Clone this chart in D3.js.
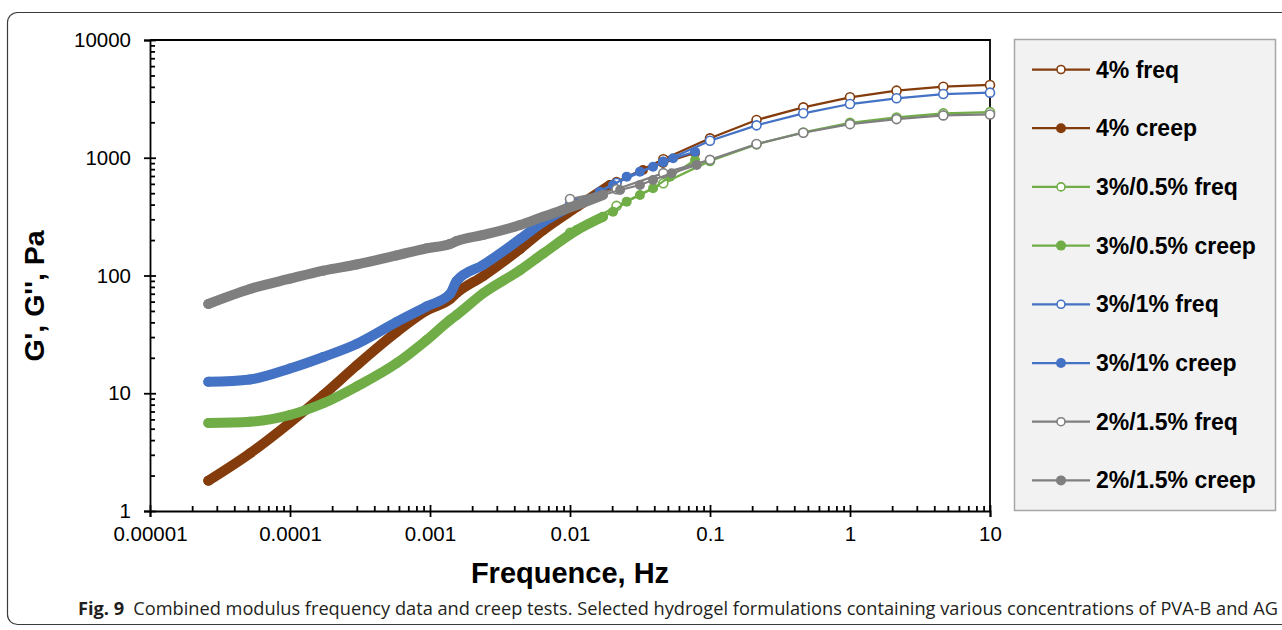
<!DOCTYPE html>
<html>
<head>
<meta charset="utf-8">
<script src="https://cdn.jsdelivr.net/npm/d3@7"></script>
<style>
  body { margin: 0; background: #fff; }
  svg { display: block; }
</style>
</head>
<body>
<script>
// chart size
var width = 1282;
var height = 630;

// plot area
var m = {left: 150, top: 40, right: 990, bottom: 511};

// frequency sweep points (Hz), shared by all "freq" series
var freqHz = [0.01, 0.0215, 0.0464, 0.1, 0.215, 0.464, 1, 2.15, 4.64, 10];
var freq4 = [380, 622, 970, 1462, 2093, 2680, 3260, 3715, 4010, 4150];
var freq3_05 = [230, 390, 607, 940, 1300, 1640, 1980, 2200, 2380, 2440];
var freq3_1 = [400, 610, 925, 1395, 1885, 2385, 2860, 3200, 3475, 3570];
var freq2_15 = [446, 540, 740, 960, 1309, 1630, 1930, 2130, 2290, 2330];

// creep tests converted to frequency (dense part read at these frequencies)
var creepHz = [2.61e-5, 5.18e-5, 1.0e-4, 1.73e-4, 2.99e-4, 5.78e-4, 9.46e-4, 1.39e-3, 1.55e-3, 2.4e-3, 4.4e-3, 6.45e-3, 0.0112];

var creep4Hz = creepHz.concat([0.0193, 0.0332, 0.0462, 0.0782]);
var creep4 = [1.81, 3.09, 5.64, 9.67, 17.2, 33.1, 50.4, 63.1, 71.0, 99.0, 168, 243, 382, 587, 787, 902, 1097];

var creep3_05Hz = creepHz.concat([0.0172, 0.0203, 0.0254, 0.0316, 0.0392, 0.0518, 0.0782]);
var creep3_05 = [5.59, 5.73, 6.54, 8.22, 11.4, 18.0, 28.3, 41.9, 46.2, 70.6, 111, 154, 243, 316, 348, 424, 483, 550, 691, 957];

var creep3_1Hz = creepHz.concat([0.0163, 0.0203, 0.0254, 0.0316, 0.0392, 0.0462, 0.0545, 0.0782]);
var creep3_1 = [12.5, 13.1, 16.2, 20.3, 26.2, 40.3, 54.5, 69.7, 89.8, 123, 204, 285, 413, 515, 587, 691, 762, 839, 926, 989, 1125];

var creep2_15Hz = creepHz.concat([0.0172, 0.0228, 0.0316, 0.0392, 0.0532, 0.0804]);
var creep2_15 = [57.3, 76.8, 93.9, 110, 124, 148, 170, 185, 196, 221, 268, 316, 397, 483, 532, 587, 648, 738, 868];

var seriesNames = ["4% freq", "4% creep", "3%/0.5% freq", "3%/0.5% creep", "3%/1% freq", "3%/1% creep", "2%/1.5% freq", "2%/1.5% creep"];
var seriesColors = ["#843c0c", "#843c0c", "#70ad47", "#70ad47", "#4472c4", "#4472c4", "#7f7f7f", "#7f7f7f"];

var xTicks = [0.00001, 0.0001, 0.001, 0.01, 0.1, 1, 10];
var xTickLabels = ["0.00001", "0.0001", "0.001", "0.01", "0.1", "1", "10"];
var yTicks = [1, 10, 100, 1000, 10000];

// build series table from the arrays above
var series = [
  {x: freqHz, y: freq4, creep: false, denseTo: 0},
  {x: creep4Hz, y: creep4, creep: true, denseTo: 0.0193},
  {x: freqHz, y: freq3_05, creep: false, denseTo: 0},
  {x: creep3_05Hz, y: creep3_05, creep: true, denseTo: 0.0172},
  {x: freqHz, y: freq3_1, creep: false, denseTo: 0},
  {x: creep3_1Hz, y: creep3_1, creep: true, denseTo: 0.0112},
  {x: freqHz, y: freq2_15, creep: false, denseTo: 0},
  {x: creep2_15Hz, y: creep2_15, creep: true, denseTo: 0.0172}
];
series.forEach(function(s, i) {
  s.name = seriesNames[i];
  s.color = seriesColors[i];
  s.pts = s.x.map(function(d, j) { return [d, s.y[j]]; });
});

var x = d3.scaleLog().domain([0.00001, 10]).range([m.left, m.right]);
var y = d3.scaleLog().domain([1, 10000]).range([m.bottom, m.top]);

var svg = d3.select("body").append("svg")
  .attr("width", width)
  .attr("height", height);

// outer figure frame
svg.append("rect")
  .attr("x", 7.5).attr("y", 12.5)
  .attr("width", 1300).attr("height", 612)
  .attr("rx", 10)
  .style("fill", "none")
  .style("stroke", "#3a3a3a")
  .style("stroke-width", 1.2);

// minor tick values
var xMinor = [], yMinor = [];
xTicks.slice(0, -1).forEach(function(d) { for (var k = 2; k < 10; k++) xMinor.push(d * k); });
yTicks.slice(0, -1).forEach(function(d) { for (var k = 2; k < 10; k++) yMinor.push(d * k); });

var font = "'Liberation Sans', Arial, sans-serif";

// plot box (top + right)
svg.append("path")
  .attr("d", "M" + m.left + "," + m.top + "H" + m.right + "V" + m.bottom)
  .style("fill", "none")
  .style("stroke", "#000")
  .style("stroke-width", 1.8);

// y axis
var gyMinor = svg.append("g")
  .attr("transform", "translate(" + m.left + ",0)")
  .call(d3.axisLeft(y).tickValues(yMinor).tickSize(-5).tickFormat(""));
var gy = svg.append("g")
  .attr("transform", "translate(" + m.left + ",0)")
  .call(d3.axisLeft(y).tickValues(yTicks).tickSize(6).tickPadding(13).tickFormat(d3.format("d")));
gy.selectAll(".tick line").attr("x1", 6);

// x axis
var gxMinor = svg.append("g")
  .attr("transform", "translate(0," + m.bottom + ")")
  .call(d3.axisBottom(x).tickValues(xMinor).tickSize(-5).tickFormat(""));
var gx = svg.append("g")
  .attr("transform", "translate(0," + m.bottom + ")")
  .call(d3.axisBottom(x).tickValues(xTicks).tickSize(6).tickPadding(9)
    .tickFormat(function(d, i) { return xTickLabels[i]; }));
gx.selectAll(".tick line").attr("y1", -6);

[gy, gx, gyMinor, gxMinor].forEach(function(g) {
  g.selectAll(".domain").style("stroke", "#000").style("stroke-width", 1.8);
  g.selectAll(".tick line").style("stroke", "#000").style("stroke-width", 1.8);
  g.selectAll("text").style("font-family", font).style("font-size", "20.5px").style("fill", "#000");
});
gyMinor.select(".domain").remove();
gxMinor.select(".domain").remove();

// series
var line = d3.line()
  .x(function(d) { return x(d[0]); })
  .y(function(d) { return y(d[1]); });
var band = d3.line()
  .curve(d3.curveMonotoneX)
  .x(function(d) { return x(d[0]); })
  .y(function(d) { return y(d[1]); });

series.forEach(function(s) {
  var g = svg.append("g");
  g.append("path")
    .attr("d", line(s.pts))
    .style("fill", "none")
    .style("stroke", s.color)
    .style("stroke-width", 2.25);
  if (s.creep) {
    // the creep data is so dense that its markers merge into a band
    var dense = s.pts.filter(function(d) { return d[0] <= s.denseTo; });
    g.append("path")
      .attr("d", band(dense))
      .style("fill", "none")
      .style("stroke", s.color)
      .style("stroke-width", 10)
      .style("stroke-linecap", "round")
      .style("stroke-linejoin", "round");
  }
  g.selectAll("circle")
    .data(s.pts)
    .enter()
    .append("circle")
    .attr("cx", function(d) { return x(d[0]); })
    .attr("cy", function(d) { return y(d[1]); })
    .attr("r", s.creep ? 5 : 4.5)
    .style("fill", s.creep ? s.color : "#fff")
    .style("stroke", s.color)
    .style("stroke-width", s.creep ? 0 : 1.6);
});

// axis titles
svg.append("text")
  .attr("transform", "translate(44,296) rotate(-90)")
  .attr("text-anchor", "middle")
  .style("font-family", font)
  .style("font-weight", "bold")
  .style("font-size", "28.5px")
  .text("G', G'', Pa");

svg.append("text")
  .attr("x", 570)
  .attr("y", 583)
  .attr("text-anchor", "middle")
  .style("font-family", font)
  .style("font-weight", "bold")
  .style("font-size", "29px")
  .text("Frequence, Hz");

// legend
var legend = svg.append("g");
legend.append("rect")
  .attr("x", 1014.5).attr("y", 39.5)
  .attr("width", 261).attr("height", 471)
  .style("fill", "#f2f2f2")
  .style("stroke", "#a6a6a6")
  .style("stroke-width", 1.5);

var li = legend.selectAll("g.item")
  .data(series)
  .enter()
  .append("g")
  .attr("class", "item")
  .attr("transform", function(d, i) { return "translate(0," + (69.5 + i * 58.7) + ")"; });

li.append("line")
  .attr("x1", 1032).attr("x2", 1090)
  .style("stroke", function(d) { return d.color; })
  .style("stroke-width", 2.25);
li.append("circle")
  .attr("cx", 1061)
  .attr("r", function(d) { return d.creep ? 5 : 4; })
  .style("fill", function(d) { return d.creep ? d.color : "#fff"; })
  .style("stroke", function(d) { return d.color; })
  .style("stroke-width", function(d) { return d.creep ? 0 : 1.6; });
li.append("text")
  .attr("x", 1096)
  .attr("y", 8)
  .style("font-family", font)
  .style("font-weight", "bold")
  .style("font-size", "23px")
  .text(function(d) { return d.name; });

// caption
var cap = svg.append("text")
  .attr("x", 78)
  .attr("y", 615)
  .attr("textLength", 1200)
  .attr("lengthAdjust", "spacingAndGlyphs")
  .style("font-family", "'Open Sans', 'Noto Sans', sans-serif")
  .style("font-size", "18px")
  .style("fill", "#231f20");
cap.append("tspan").style("font-weight", "bold").text("Fig. 9");
cap.append("tspan").text("\u2002Combined modulus frequency data and creep tests. Selected hydrogel formulations containing various concentrations of PVA-B and AG");
</script>
</body>
</html>
